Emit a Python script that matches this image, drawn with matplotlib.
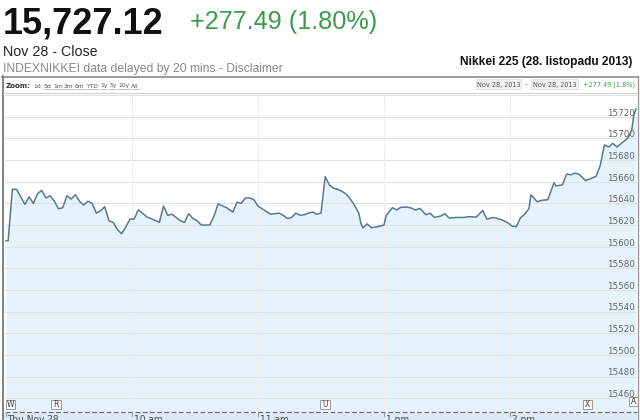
import matplotlib
matplotlib.use("Agg")
import matplotlib.pyplot as plt
import matplotlib.transforms as mtransforms
from matplotlib.patches import Rectangle
from matplotlib.lines import Line2D

# ---------------- data ----------------
times = ["09:00","09:01","09:03","09:05","09:07","09:09","09:11","09:13","09:15","09:17",
         "09:19","09:21","09:23","09:25","09:27","09:29","09:31","09:33","09:35","09:37",
         "09:39","09:41","09:43","09:45","09:47","09:49","09:51","09:53","09:55","09:57",
         "09:59",
         "10:01","10:03","10:05","10:07","10:09","10:13","10:15","10:17","10:19","10:21",
         "10:23","10:25","10:27","10:29","10:31","10:33","10:37","10:39","10:41","10:45",
         "10:48","10:50","10:52","10:54","10:56","10:58",
         "11:00","11:02","11:06","11:10","11:12","11:14","11:16","11:18","11:20","11:22",
         "11:24","11:26","11:28","11:30",
         "12:32","12:34","12:36","12:38","12:40","12:42","12:44","12:46","12:48","12:49",
         "12:50","12:52","12:54","12:57",
         "13:00","13:01","13:04","13:06","13:08","13:11","13:13","13:15","13:17","13:20",
         "13:22","13:24","13:27","13:29","13:31","13:35","13:38","13:40","13:44","13:47",
         "13:49","13:52","13:56","13:59",
         "14:01","14:03","14:05","14:07","14:09","14:10","14:13","14:15","14:18","14:21",
         "14:22","14:25","14:27","14:29","14:31","14:33","14:36","14:38","14:41","14:43",
         "14:45","14:47","14:49","14:51","14:53","14:56","14:58","14:59",
         "15:00"]
values = [15605.5,15605.5,15653,15653,15646,15639,15646,15640,15649,15652,
          15645,15647,15642,15635,15636,15647,15644,15648,15642,15638.5,
          15642,15640,15631,15633,15637,15624,15622.5,15616,15612,15618,
          15625.5,
          15625.5,15634,15631,15627.5,15626,15622.5,15637.5,15629,15630,15627,
          15624,15622.5,15630.5,15626,15624,15620,15620,15628,15639.5,15636,
          15632,15641,15640,15645,15645,15643.5,
          15637.5,15635,15630,15631,15629,15626,15627,15631,15629,15629.5,
          15631,15632,15630,15631,
          15664.6,15657,15654,15653,15651,15648.6,15644,15638,15631,15621.5,
          15617.5,15621,15617.5,15618.5,
          15620,15628.6,15636,15634,15636.3,15636.6,15635.7,15633.8,15635.4,15629.5,
          15631,15627,15628.3,15630.4,15626.5,15627,15627,15627.7,15627.4,15633.5,
          15625.5,15627,15625,15622,
          15619,15618.5,15626.7,15630,15635,15648,15641.5,15642.8,15643.4,15659,
          15656,15657.2,15667,15666.4,15668,15666.8,15661,15662.5,15665,15675,
          15694,15692,15695.4,15692,15695.4,15700,15707.7,15721.6,
          15727.12]
assert len(times) == len(values)

ytick_values = list(range(15460, 15741, 20))
xtick_times = ["09:00", "10:00", "11:00", "13:00", "14:00"]
xtick_labels = ["Thu Nov 28", "10 am", "11 am", "1 pm", "2 pm"]
flag_letters = ["W", "R", "U", "X", "A"]
flag_times = ["09:00", "09:22", "12:30", "14:35", "14:57"]

last_price = "15,727.12"
change_text = "+277.49 (1.80%)"
zoom_items = ["1d", "5d", "1m", "3m", "6m", "YTD", "1y", "5y", "10y", "All"]


def trade_pos(t):
    h, m = map(int, t.split(":"))
    mins = (h - 9) * 60 + m
    if mins >= 210:  # after lunch break (11:30-12:30) collapse
        mins -= 60
    return mins


xs = [trade_pos(t) for t in times]

# ---------------- figure ----------------
W, H = 640, 420
fig = plt.figure(figsize=(6.4, 4.2), dpi=100)
fig.patch.set_facecolor("white")

def fx(px):
    return px / W

def fy(py):
    return 1 - py / H

# main plot area in pixels: x 5..637, y 93..412
ax = fig.add_axes([fx(5), fy(412), fx(637) - fx(5), fy(93) - fy(412)])
ymin, ymax = 15447.4, 15741.9
ax.set_xlim(-0.5, 300.5)
ax.set_ylim(ymin, ymax)
ax.set_facecolor("white")
for s in ax.spines.values():
    s.set_visible(False)
ax.set_xticks([])
ax.set_yticks([])

ax.fill_between(xs, values, ymin, color="#e7f3fc", zorder=1, linewidth=0)
for v in ytick_values:
    ax.axhline(v, color="#dde3e8", linewidth=0.8, zorder=1.5)
for t in xtick_times[1:]:
    ax.axvline(trade_pos(t), color="#eeeeee", linewidth=0.8, zorder=1.5)

lab_tr = mtransforms.blended_transform_factory(ax.transAxes, ax.transData) + \
    mtransforms.ScaledTranslation(-2 / 100, 1.2 / 100, fig.dpi_scale_trans)
for v in ytick_values:
    ax.text(1, v, str(v), transform=lab_tr, ha="right", va="baseline",
            fontsize=6.3, color="#666666", family="DejaVu Sans",
            clip_on=True, zorder=2)

ax.plot(xs, values, color="#57798f", linewidth=1.1, zorder=3)

# ---------------- overlay (pixel coordinates) ----------------
ov = fig.add_axes([0, 0, 1, 1], zorder=10)
ov.set_xlim(0, W)
ov.set_ylim(H, 0)
ov.axis("off")
ov.patch.set_alpha(0)

# header
ov.text(3, 33.3, last_price, fontsize=26, fontweight="bold",
        family="Liberation Sans", color="#111111", va="baseline", ha="left")
ov.text(190, 29.5, change_text, fontsize=18.2, family="Liberation Sans",
        color="#3a9b48", va="baseline", ha="left")
ov.text(3, 56, "Nov 28 - Close", fontsize=10.3, family="Liberation Sans",
        color="#222222", va="baseline", ha="left")
ov.text(3, 72, "INDEXNIKKEI data delayed by 20 mins - Disclaimer", fontsize=8.7,
        family="Liberation Sans", color="#888888", va="baseline", ha="left")
ov.text(632, 65, "Nikkei 225 (28. listopadu 2013)", fontsize=8.6,
        fontweight="bold", family="Liberation Sans", color="#111111",
        va="baseline", ha="right")

# chart frame
ov.add_line(Line2D([2, 638], [76.5, 76.5], color="#8a8a8a", linewidth=1.2))
ov.add_line(Line2D([2.5, 2.5], [76, 420], color="#7a7a7a", linewidth=1.3))
ov.add_line(Line2D([637.5, 637.5], [76, 420], color="#9a9a9a", linewidth=1.0))
ov.add_line(Line2D([3, 637], [93, 93], color="#d0d0d0", linewidth=0.8))

# zoom toolbar
ov.text(6, 87.5, "Zoom:", fontsize=5, fontweight="bold", family="DejaVu Sans",
        color="#333333", va="baseline")
zoom_x = [33, 44, 53, 64, 75, 86, 100, 109, 118, 131]
zoom_texts = []
for zx, item in zip(zoom_x, zoom_items):
    zoom_texts.append(ov.text(zx, 87.5, item, fontsize=4.3, family="DejaVu Sans",
                              color="#555555", va="baseline"))
fig.canvas.draw()
renderer = fig.canvas.get_renderer()
for i, (zx, tx) in enumerate(zip(zoom_x, zoom_texts)):
    if i == 0:
        continue
    wpx = tx.get_window_extent(renderer).width
    ov.add_line(Line2D([zx, zx + wpx], [89.2, 89.2], color="#8a8a8a",
                       linewidth=0.4))

for bx0, bx1 in [(476, 521), (531, 578)]:
    ov.add_patch(Rectangle((bx0, 79), bx1 - bx0, 10, facecolor="#f1f1f1",
                           edgecolor="#e2e2e2", linewidth=0.6))
ov.text(498.5, 86.5, "Nov 28, 2013", fontsize=4.7, family="DejaVu Sans",
        color="#555555", va="baseline", ha="center")
ov.text(526, 86.5, "-", fontsize=4.7, family="DejaVu Sans",
        color="#555555", va="baseline", ha="center")
ov.text(554.5, 86.5, "Nov 28, 2013", fontsize=4.7, family="DejaVu Sans",
        color="#555555", va="baseline", ha="center")
ov.text(635, 86.5, "+277.49 (1.8%)", fontsize=4.7, family="DejaVu Sans",
        color="#3a9b48", va="baseline", ha="right")

# x-axis strip
ov.add_patch(Rectangle((3, 412.5), 634, 8, facecolor="#dbeaf6", edgecolor="none"))
ov.add_line(Line2D([5, 637], [411.7, 411.7], color="#666666", linewidth=0.8,
                   dashes=(4.3, 2.2)))

def px_of(t):
    return 6 + trade_pos(t) * 2.1

for t, lab in zip(xtick_times, xtick_labels):
    x0 = px_of(t)
    ov.add_line(Line2D([x0, x0], [412, 416], color="#999999", linewidth=0.7))
    ov.text(x0 + 1.5, 415.5, lab, fontsize=6.5, family="DejaVu Sans",
            color="#444444", va="top", ha="left")

# news flags
for letter, t in zip(flag_letters, flag_times):
    x0 = max(px_of(t) - 1, 5.5)
    y0 = 400 if letter != "A" else 397
    ov.add_patch(Rectangle((x0, y0), 9.5, 9, facecolor="#fafafa",
                           edgecolor="#9a9a9a", linewidth=0.7))
    ov.text(x0 + 4.75, y0 + 4.7, letter, fontsize=5.5, family="DejaVu Sans",
            color="#444444", va="center", ha="center")

fig.savefig("out.png", dpi=100)
